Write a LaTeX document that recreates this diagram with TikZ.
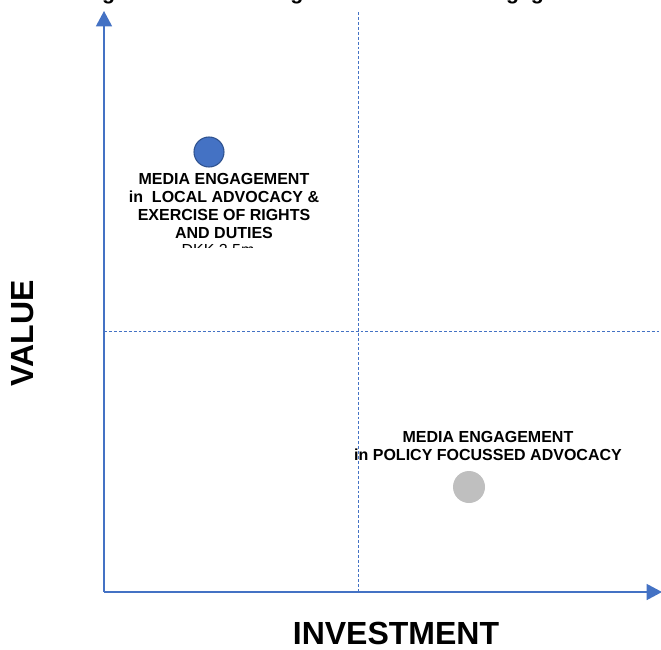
\documentclass[tikz,border=0pt]{standalone}
\usepackage{fontspec}
\setmainfont{Liberation Sans}
\usepackage{xcolor}
\usepackage{tikz}
\usetikzlibrary{arrows.meta}

\definecolor{axisblue}{HTML}{4472C4}
\definecolor{ringblue}{HTML}{2F528F}
\definecolor{dotgray}{HTML}{BFBFBF}

\begin{document}
\begin{tikzpicture}[
  x=0.75pt, y=-0.75pt,
  axis/.style={axisblue, line width=1.1pt, -{Triangle[length=11.5pt, width=12pt]}},
  split/.style={axisblue, line width=0.7pt, dash pattern=on 2.2pt off 1.5pt},
  quad/.style={font=\fontsize{12}{13.5}\selectfont\bfseries, align=center, inner sep=0pt},
  axlabel/.style={font=\fontsize{24}{28}\selectfont\bfseries, inner sep=0pt}
]
\useasboundingbox (0,0) rectangle (661,650);

% caption, mostly cut off at the top
\begin{scope}
  \clip (0,0) rectangle (661,650);
  \node[font=\fontsize{16}{19}\selectfont\bfseries, anchor=base west, inner sep=0pt]
    (caption) at (83,-0.8) {Figure 4: the VM Diagram of the Media Engagement};
\end{scope}

\coordinate (origin) at (104,592);
\coordinate (ytop) at (104,11);
\coordinate (xend) at (662,592);
\coordinate (midtop) at (358,12);
\coordinate (midbot) at (358,592);
\coordinate (midleft) at (104,331);
\coordinate (midright) at (661,331);

% quadrant split
\draw[split] (midtop) -- (midbot);
\draw[split] (midleft) -- (midright);

% axes
\draw[axis] (origin) -- (ytop);
\draw[axis] (origin) -- (xend);

\node[axlabel] (invest) at (396,633.5) {INVESTMENT};
\node[axlabel, rotate=90] (value) at (23,333.5) {VALUE};

% upper left item
\node[circle, fill=axisblue, draw=ringblue, line width=0.8pt, minimum size=22.5pt, inner sep=0pt] (localdot) at (209,152) {};
\node[quad] (localtxt) at (224,206)
  {MEDIA ENGAGEMENT\\in\ \ LOCAL ADVOCACY \&\\EXERCISE OF RIGHTS\\AND DUTIES};
\begin{scope}
  \clip (100,240) rectangle (350,247.5);
  \node[font=\fontsize{12}{13.5}\selectfont, anchor=base, inner sep=0pt] (localcost) at (218,255.5) {DKK 2.5m};
\end{scope}

% lower right item
\node[quad] (policytxt) at (488,446)
  {MEDIA ENGAGEMENT\\in POLICY FOCUSSED ADVOCACY};
\node[circle, fill=dotgray, minimum size=24pt, inner sep=0pt] (policydot) at (469,487) {};
\end{tikzpicture}
\end{document}
